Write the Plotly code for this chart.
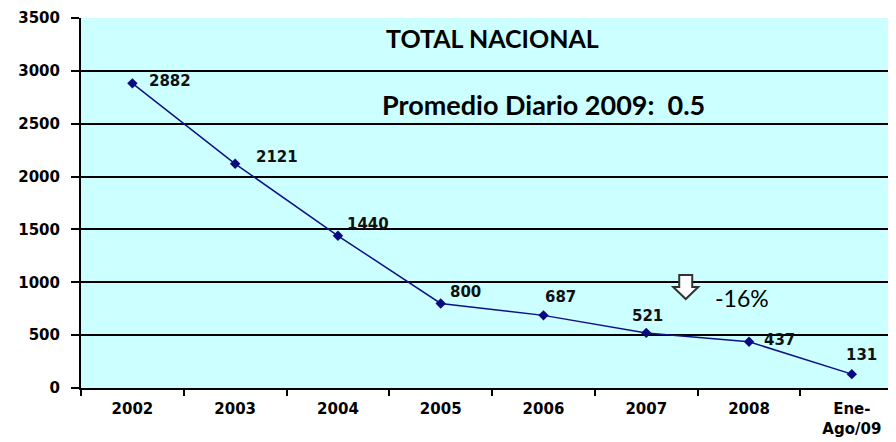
import plotly.graph_objects as go

years = ["2002", "2003", "2004", "2005", "2006", "2007", "2008", "Ene-<br>Ago/09"]
totals = [2882, 2121, 1440, 800, 687, 521, 437, 131]
y_ticks = [0, 500, 1000, 1500, 2000, 2500, 3000, 3500]

# desplazamiento de cada etiqueta respecto a su punto (px)
label_dx = [38, 42, 30, 25, 17, 1, 30, 10]
label_dy = [2, 7, 12, 11, 18, 17, 2, 19]

fig = go.Figure()
fig.add_trace(go.Scatter(
    x=years, y=totals, mode="lines+markers",
    line=dict(color="#101088", width=1.5),
    marker=dict(symbol="diamond", size=8, color="#0a0a80"),
    showlegend=False, hoverinfo="skip",
))

for i, (v, dx, dy) in enumerate(zip(totals, label_dx, label_dy)):
    fig.add_annotation(x=i, y=v, text=str(v), showarrow=False,
                       xshift=dx, yshift=dy,
                       font=dict(family="DejaVu Sans", size=15, color="#111", weight=700))

fig.add_annotation(xref="paper", yref="paper", x=0.505, y=0.946,
                   xanchor="center", yanchor="middle",
                   text="<b>TOTAL NACIONAL</b>", showarrow=False,
                   font=dict(family="Lato", size=25, color="black"))
fig.add_annotation(xref="paper", yref="paper", x=0.567, y=0.765,
                   xanchor="center", yanchor="middle",
                   text="<b>Promedio Diario 2009:  0.5</b>", showarrow=False,
                   font=dict(family="Lato", size=27, color="black"))
fig.add_annotation(xref="paper", yref="paper", x=0.811, y=0.243,
                   xanchor="center", yanchor="middle",
                   text="-16%", showarrow=False,
                   font=dict(family="Lato", size=23, color="black"))
# flecha hacia abajo (contorno)
fig.add_shape(type="path", xref="paper", yref="paper",
              xsizemode="pixel", ysizemode="pixel", xanchor=0.742, yanchor=0.273,
              path="M -6.5,12 L 6.5,12 L 6.5,0 L 12.5,0 L 0,-12 L -12.5,0 L -6.5,0 Z",
              fillcolor="white", line=dict(color="#333", width=2))

fig.update_xaxes(
    range=[-0.5, 7.43], tickson="boundaries", ticks="outside", ticklen=6,
    tickwidth=2, tickcolor="black", showline=True, linecolor="black", linewidth=2,
    showgrid=False, automargin=False, ticklabelstandoff=6,
    tickfont=dict(family="DejaVu Sans", size=15, color="black", weight=700),
)
fig.update_yaxes(
    range=[0, 3500], tickvals=y_ticks, ticks="outside", ticklen=8, tickwidth=2,
    tickcolor="black", showline=True, linecolor="black", linewidth=2,
    showgrid=True, gridcolor="black", gridwidth=2, zeroline=False, automargin=False,
    ticklabelstandoff=8,
    tickfont=dict(family="DejaVu Sans", size=15, color="black", weight=700),
)
# la página deja 8 px de margen en el body
fig.update_layout(
    width=888, height=434,
    margin=dict(l=73, r=0, t=10, b=54),
    plot_bgcolor="#ccffff", paper_bgcolor="white",
)
fig.write_html("out.html")
